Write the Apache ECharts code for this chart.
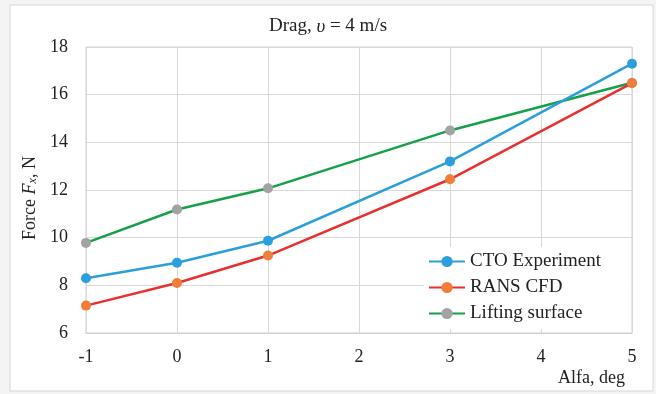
<!DOCTYPE html>
<html><head><meta charset="utf-8">
<script src="https://cdn.jsdelivr.net/npm/echarts@6/dist/echarts.min.js"></script>
<style>html,body{margin:0;padding:0;background:#f4f4f4;}#c{width:656px;height:394px;}</style>
</head><body><div id="c"></div>
<script>
const alfa = [-1, 0, 1, 3, 5];
const ctoExperiment = [8.3, 8.95, 9.87, 13.2, 17.3];
const ransCfd = [7.15, 8.1, 9.25, 12.45, 16.48];
const liftingSurface = [9.78, 11.18, 12.07, 14.5, 16.5];
const xTicks = [-1, 0, 1, 2, 3, 4, 5];
const yTicks = [6, 8, 10, 12, 14, 16, 18];

const FONT = '"Liberation Serif", "DejaVu Serif", serif';
const pts = ys => alfa.map((x, i) => [x, ys[i]]);

const chart = echarts.init(document.getElementById('c'));
chart.setOption({
  backgroundColor: '#f4f4f4',
  animation: false,
  graphic: [{
    type: 'rect', z: -10, silent: true,
    shape: { x: 10, y: 5, width: 643, height: 386 },
    style: { fill: '#ffffff', stroke: '#d6d6d6', lineWidth: 1 }
  }],
  title: {
    text: '{n|Drag, }{i|υ}{n| = 4 m/s}',
    left: 'center', top: 12,
    textStyle: { fontWeight: 'normal', fontSize: 19, rich: {
      n: { fontFamily: FONT, fontSize: 19, fontWeight: 'normal', color: '#222' },
      i: { fontFamily: FONT, fontSize: 19, fontWeight: 'normal', fontStyle: 'italic', color: '#222' }
    } }
  },
  grid: { left: 86, top: 47, width: 546, height: 286, show: true, borderColor: '#d0d0d0', borderWidth: 1 },
  legend: {
    orient: 'vertical', left: 424, top: 247,
    backgroundColor: '#ffffff', padding: [5, 30, 6, 4],
    itemWidth: 36, itemHeight: 14, itemGap: 7,
    textStyle: { fontFamily: FONT, fontSize: 19, color: '#222' },
    data: ['CTO Experiment', 'RANS CFD', 'Lifting surface']
  },
  xAxis: {
    type: 'value', min: -1, max: 5, interval: 1,
    name: 'Alfa, deg', nameLocation: 'end', nameGap: 0,
    nameTextStyle: { fontFamily: FONT, fontSize: 18, color: '#222', align: 'right', verticalAlign: 'top', padding: [36, 7, 0, 0] },
    axisLine: { lineStyle: { color: '#d0d0d0' } },
    axisTick: { show: false },
    axisLabel: { fontFamily: FONT, fontSize: 18, color: '#222', margin: 15,
      formatter: v => xTicks.includes(v) ? String(v) : '' },
    splitLine: { show: true, lineStyle: { color: '#d9d9d9', width: 1 } }
  },
  yAxis: {
    type: 'value', min: 6, max: 18, interval: 2,
    name: '{n|Force }{i|F}{s|x}{n|, N}', nameLocation: 'middle', nameGap: 47, nameRotate: 90,
    nameTextStyle: { padding: [0, 16, 0, 0], rich: {
      n: { fontFamily: FONT, fontSize: 18, color: '#222' },
      i: { fontFamily: FONT, fontSize: 18, fontStyle: 'italic', color: '#222' },
      s: { fontFamily: FONT, fontSize: 12, fontStyle: 'italic', color: '#222', verticalAlign: 'bottom', lineHeight: 10 }
    } },
    axisLine: { show: false },
    axisTick: { show: false },
    axisLabel: { fontFamily: FONT, fontSize: 18, color: '#222', margin: 18,
      formatter: v => yTicks.includes(v) ? String(v) : '' },
    splitLine: { show: true, lineStyle: { color: '#d9d9d9', width: 1 } }
  },
  series: [
    { name: 'CTO Experiment', type: 'line', data: pts(ctoExperiment), symbol: 'circle', symbolSize: 10,
      lineStyle: { color: '#2a9fdb', width: 2.5 }, itemStyle: { color: '#2a9fdb' }, z: 3 },
    { name: 'RANS CFD', type: 'line', data: pts(ransCfd), symbol: 'circle', symbolSize: 10,
      lineStyle: { color: '#e8312f', width: 2.5 }, itemStyle: { color: '#f07e3a' }, z: 2 },
    { name: 'Lifting surface', type: 'line', data: pts(liftingSurface), symbol: 'circle', symbolSize: 10,
      lineStyle: { color: '#17a04a', width: 2.5 }, itemStyle: { color: '#a3a3a3' }, z: 1 }
  ]
});
</script></body></html>
